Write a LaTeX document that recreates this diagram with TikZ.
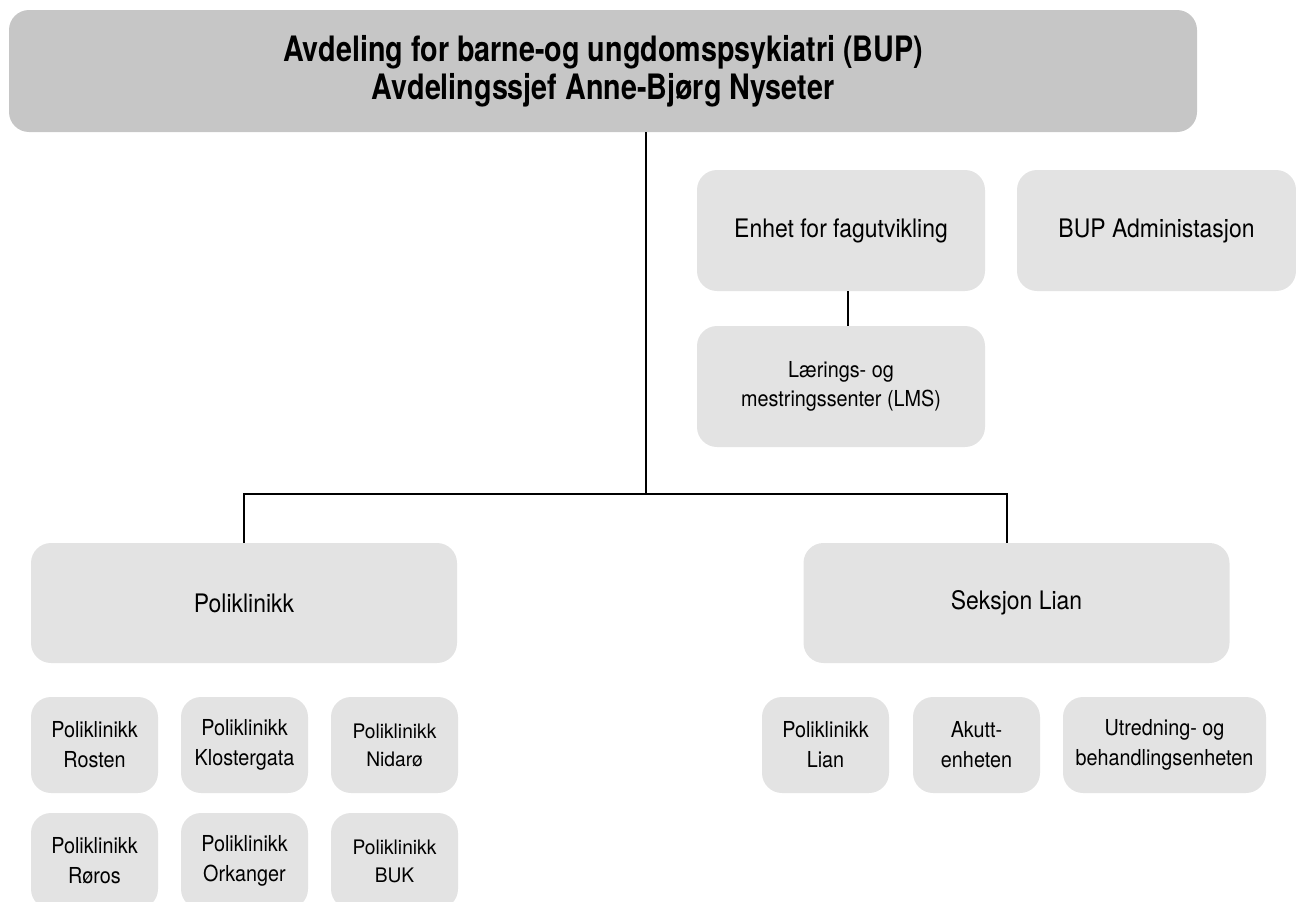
\documentclass[tikz,border=0pt]{standalone}
\usepackage{fontspec}
\setmainfont{TeX Gyre Heros}[FakeStretch=0.82]
\newfontfamily\unitfont{TeX Gyre Heros}[FakeStretch=0.9]
\newfontfamily\widefont{TeX Gyre Heros}[FakeStretch=0.96]
\definecolor{headgray}{HTML}{C6C6C6}
\definecolor{unitgray}{HTML}{E3E3E3}
\tikzset{
  unit/.style={fill=unitgray, rounded corners=20pt, align=center, inner sep=0pt, font=\unitfont\fontsize{25.5}{30}\selectfont},
  subunit/.style={unit, minimum width=127pt, minimum height=96pt, font=\unitfont\fontsize{22}{30}\selectfont},
  link/.style={line width=2pt}
}
\begin{document}
\begin{tikzpicture}[x=1pt,y=-1pt]
				\useasboundingbox (0,0) rectangle (1296,902);
				\node (top) [fill=headgray, rounded corners=20pt, minimum width=1188pt, minimum height=122pt, align=center, font=\fontsize{35}{38}\selectfont\bfseries] at (603,71) {Avdeling for barne-og ungdomspsykiatri (BUP)\\Avdelingssjef Anne-Bjørg Nyseter};

				\node (fag) [unit, minimum width=288pt, minimum height=121pt] at (841,230.5) {Enhet for fagutvikling};
				\node (adm) [unit, minimum width=279pt, minimum height=121pt] at (1156.5,230.5) {BUP Administasjon};
				\node (lms) [unit, minimum width=288pt, minimum height=121pt, font=\unitfont\fontsize{22}{29}\selectfont] at (841,386.5) {Lærings- og\\mestringssenter (LMS)};

				\node (poli) [unit, minimum width=426pt, minimum height=120pt] at (244,603) {Poliklinikk};
				\node (lian) [unit, minimum width=426pt, minimum height=120pt] at (1016.5,603) {Seksjon Lian};

				\node (rosten) [subunit] at (94.5,745) {Poliklinikk\\Rosten};
				\node (kloster) [subunit] at (244.5,745) {Poliklinikk\\Klostergata};
				\node (nidaro) [subunit, font=\widefont\fontsize{20}{28}\selectfont] at (394.5,745) {Poliklinikk\\Nidarø};
				\node (roros) [subunit] at (94.5,861) {Poliklinikk\\Røros};
				\node (orkanger) [subunit] at (244.5,861) {Poliklinikk\\Orkanger};
				\node (buk) [subunit, font=\widefont\fontsize{20}{28}\selectfont] at (394.5,861) {Poliklinikk\\BUK};

				\node (polilian) [subunit] at (825.5,745) {Poliklinikk\\Lian};
				\node (akutt) [subunit] at (976.5,745) {Akutt-\\enheten};
				\node (utred) [subunit, minimum width=203pt] at (1164.5,745) {Utredning- og\\behandlingsenheten};

				\coordinate (bus) at (646,494);
				\draw [link] (top.south -| bus) -- (bus);
				\draw [link] (poli.north) |- (bus) -| ([xshift=-9.5pt]lian.north);
				\draw [link] ([xshift=7pt]fag.south) -- ([xshift=7pt]lms.north);
			\end{tikzpicture}
\end{document}
